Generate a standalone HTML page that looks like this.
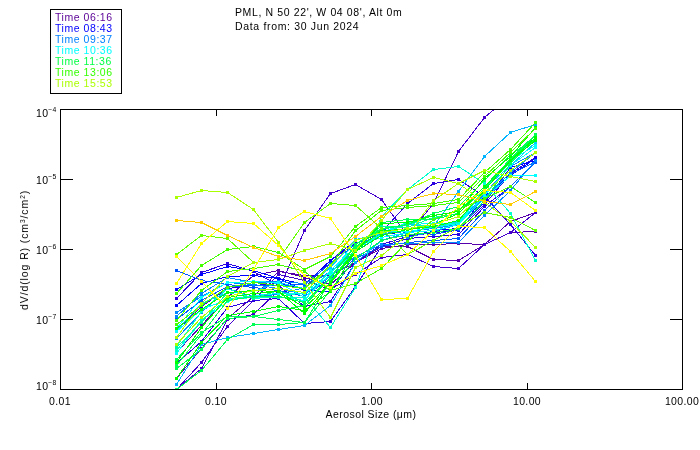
<!DOCTYPE html><html><head><meta charset="utf-8"><title>PML aerosol size distribution</title><style>
html,body{margin:0;padding:0;background:#fff}
body{width:700px;height:450px;position:relative;overflow:hidden;font-family:"Liberation Sans",sans-serif;font-size:10.5px;color:#000;}
.t{position:absolute;white-space:nowrap;line-height:12px;letter-spacing:0.35px;will-change:transform}
.c{transform:translateX(-50%)}
.yl{position:absolute;white-space:nowrap;line-height:12px;right:643.3px;letter-spacing:0.3px;will-change:transform}
.yl sup{font-size:6.8px;position:relative;top:-1.6px;vertical-align:3.5px;line-height:0;letter-spacing:0.2px}
sup.s{font-size:6.5px;vertical-align:3px;line-height:0}
</style></head><body>
<svg width="700" height="450" viewBox="0 0 700 450" style="position:absolute;left:0;top:0" shape-rendering="crispEdges">
<defs><clipPath id="cp"><rect x="60" y="109" width="623" height="281"/></clipPath></defs>
<g clip-path="url(#cp)" fill="none" stroke-width="1">
<polyline points="176.5,378.5 201.5,348.5 227.5,318.5 253.5,296.5 278.5,271.5 304.5,275.5 330.5,275.5 355.5,262.5 381.5,246.5 407.5,246.5 433.5,259.5 458.5,260.5 484.5,244.5 510.5,232.5 535.5,231.5" stroke="#5500aa"/>
<rect x="175" y="377" width="3" height="3" fill="#5500aa" stroke="none"/>
<rect x="200" y="347" width="3" height="3" fill="#5500aa" stroke="none"/>
<rect x="226" y="317" width="3" height="3" fill="#5500aa" stroke="none"/>
<rect x="252" y="295" width="3" height="3" fill="#5500aa" stroke="none"/>
<rect x="277" y="270" width="3" height="3" fill="#5500aa" stroke="none"/>
<rect x="303" y="274" width="3" height="3" fill="#5500aa" stroke="none"/>
<rect x="329" y="274" width="3" height="3" fill="#5500aa" stroke="none"/>
<rect x="354" y="261" width="3" height="3" fill="#5500aa" stroke="none"/>
<rect x="380" y="245" width="3" height="3" fill="#5500aa" stroke="none"/>
<rect x="406" y="245" width="3" height="3" fill="#5500aa" stroke="none"/>
<rect x="432" y="258" width="3" height="3" fill="#5500aa" stroke="none"/>
<rect x="457" y="259" width="3" height="3" fill="#5500aa" stroke="none"/>
<rect x="483" y="243" width="3" height="3" fill="#5500aa" stroke="none"/>
<rect x="509" y="231" width="3" height="3" fill="#5500aa" stroke="none"/>
<rect x="534" y="230" width="3" height="3" fill="#5500aa" stroke="none"/>
<polyline points="176.5,352.5 201.5,325.5 227.5,297.5 253.5,275.5 278.5,270.5 304.5,277.5 330.5,284.5 355.5,262.5 381.5,248.5 407.5,244.5 433.5,244.5 458.5,243.5 484.5,244.5 510.5,221.5 535.5,212.5" stroke="#5500aa"/>
<rect x="175" y="351" width="3" height="3" fill="#5500aa" stroke="none"/>
<rect x="200" y="324" width="3" height="3" fill="#5500aa" stroke="none"/>
<rect x="226" y="296" width="3" height="3" fill="#5500aa" stroke="none"/>
<rect x="252" y="274" width="3" height="3" fill="#5500aa" stroke="none"/>
<rect x="277" y="269" width="3" height="3" fill="#5500aa" stroke="none"/>
<rect x="303" y="276" width="3" height="3" fill="#5500aa" stroke="none"/>
<rect x="329" y="283" width="3" height="3" fill="#5500aa" stroke="none"/>
<rect x="354" y="261" width="3" height="3" fill="#5500aa" stroke="none"/>
<rect x="380" y="247" width="3" height="3" fill="#5500aa" stroke="none"/>
<rect x="406" y="243" width="3" height="3" fill="#5500aa" stroke="none"/>
<rect x="432" y="243" width="3" height="3" fill="#5500aa" stroke="none"/>
<rect x="457" y="242" width="3" height="3" fill="#5500aa" stroke="none"/>
<rect x="483" y="243" width="3" height="3" fill="#5500aa" stroke="none"/>
<rect x="509" y="220" width="3" height="3" fill="#5500aa" stroke="none"/>
<rect x="534" y="211" width="3" height="3" fill="#5500aa" stroke="none"/>
<polyline points="176.5,389.5 201.5,368.5 227.5,319.5 253.5,314.5 278.5,290.5 304.5,230.5 330.5,193.5 355.5,184.5 381.5,199.5 407.5,235.5 433.5,203.5 458.5,151.5 484.5,117.5 510.5,95.5 535.5,80.5" stroke="#4400cc"/>
<rect x="175" y="388" width="3" height="3" fill="#4400cc" stroke="none"/>
<rect x="200" y="367" width="3" height="3" fill="#4400cc" stroke="none"/>
<rect x="226" y="318" width="3" height="3" fill="#4400cc" stroke="none"/>
<rect x="252" y="313" width="3" height="3" fill="#4400cc" stroke="none"/>
<rect x="277" y="289" width="3" height="3" fill="#4400cc" stroke="none"/>
<rect x="303" y="229" width="3" height="3" fill="#4400cc" stroke="none"/>
<rect x="329" y="192" width="3" height="3" fill="#4400cc" stroke="none"/>
<rect x="354" y="183" width="3" height="3" fill="#4400cc" stroke="none"/>
<rect x="380" y="198" width="3" height="3" fill="#4400cc" stroke="none"/>
<rect x="406" y="234" width="3" height="3" fill="#4400cc" stroke="none"/>
<rect x="432" y="202" width="3" height="3" fill="#4400cc" stroke="none"/>
<rect x="457" y="150" width="3" height="3" fill="#4400cc" stroke="none"/>
<rect x="483" y="116" width="3" height="3" fill="#4400cc" stroke="none"/>
<rect x="509" y="94" width="3" height="3" fill="#4400cc" stroke="none"/>
<rect x="534" y="79" width="3" height="3" fill="#4400cc" stroke="none"/>
<polyline points="176.5,389.5 201.5,362.5 227.5,326.5 253.5,300.5 278.5,274.5 304.5,280.5 330.5,289.5 355.5,274.5 381.5,257.5 407.5,254.5 433.5,266.5 458.5,268.5 484.5,244.5 510.5,232.5 535.5,212.5" stroke="#4400cc"/>
<rect x="175" y="388" width="3" height="3" fill="#4400cc" stroke="none"/>
<rect x="200" y="361" width="3" height="3" fill="#4400cc" stroke="none"/>
<rect x="226" y="325" width="3" height="3" fill="#4400cc" stroke="none"/>
<rect x="252" y="299" width="3" height="3" fill="#4400cc" stroke="none"/>
<rect x="277" y="273" width="3" height="3" fill="#4400cc" stroke="none"/>
<rect x="303" y="279" width="3" height="3" fill="#4400cc" stroke="none"/>
<rect x="329" y="288" width="3" height="3" fill="#4400cc" stroke="none"/>
<rect x="354" y="273" width="3" height="3" fill="#4400cc" stroke="none"/>
<rect x="380" y="256" width="3" height="3" fill="#4400cc" stroke="none"/>
<rect x="406" y="253" width="3" height="3" fill="#4400cc" stroke="none"/>
<rect x="432" y="265" width="3" height="3" fill="#4400cc" stroke="none"/>
<rect x="457" y="267" width="3" height="3" fill="#4400cc" stroke="none"/>
<rect x="483" y="243" width="3" height="3" fill="#4400cc" stroke="none"/>
<rect x="509" y="231" width="3" height="3" fill="#4400cc" stroke="none"/>
<rect x="534" y="211" width="3" height="3" fill="#4400cc" stroke="none"/>
<polyline points="176.5,330.5 201.5,306.5 227.5,288.5 253.5,285.5 278.5,283.5 304.5,288.5 330.5,260.5 355.5,243.5 381.5,232.5 407.5,203.5 433.5,183.5 458.5,179.5 484.5,196.5 510.5,224.5 535.5,255.5" stroke="#2a00e0"/>
<rect x="175" y="329" width="3" height="3" fill="#2a00e0" stroke="none"/>
<rect x="200" y="305" width="3" height="3" fill="#2a00e0" stroke="none"/>
<rect x="226" y="287" width="3" height="3" fill="#2a00e0" stroke="none"/>
<rect x="252" y="284" width="3" height="3" fill="#2a00e0" stroke="none"/>
<rect x="277" y="282" width="3" height="3" fill="#2a00e0" stroke="none"/>
<rect x="303" y="287" width="3" height="3" fill="#2a00e0" stroke="none"/>
<rect x="329" y="259" width="3" height="3" fill="#2a00e0" stroke="none"/>
<rect x="354" y="242" width="3" height="3" fill="#2a00e0" stroke="none"/>
<rect x="380" y="231" width="3" height="3" fill="#2a00e0" stroke="none"/>
<rect x="406" y="202" width="3" height="3" fill="#2a00e0" stroke="none"/>
<rect x="432" y="182" width="3" height="3" fill="#2a00e0" stroke="none"/>
<rect x="457" y="178" width="3" height="3" fill="#2a00e0" stroke="none"/>
<rect x="483" y="195" width="3" height="3" fill="#2a00e0" stroke="none"/>
<rect x="509" y="223" width="3" height="3" fill="#2a00e0" stroke="none"/>
<rect x="534" y="254" width="3" height="3" fill="#2a00e0" stroke="none"/>
<polyline points="176.5,298.5 201.5,272.5 227.5,263.5 253.5,271.5 278.5,285.5 304.5,306.5 330.5,301.5 355.5,262.5 381.5,244.5 407.5,236.5 433.5,232.5 458.5,230.5 484.5,204.5 510.5,173.5 535.5,157.5" stroke="#2a00e0"/>
<rect x="175" y="297" width="3" height="3" fill="#2a00e0" stroke="none"/>
<rect x="200" y="271" width="3" height="3" fill="#2a00e0" stroke="none"/>
<rect x="226" y="262" width="3" height="3" fill="#2a00e0" stroke="none"/>
<rect x="252" y="270" width="3" height="3" fill="#2a00e0" stroke="none"/>
<rect x="277" y="284" width="3" height="3" fill="#2a00e0" stroke="none"/>
<rect x="303" y="305" width="3" height="3" fill="#2a00e0" stroke="none"/>
<rect x="329" y="300" width="3" height="3" fill="#2a00e0" stroke="none"/>
<rect x="354" y="261" width="3" height="3" fill="#2a00e0" stroke="none"/>
<rect x="380" y="243" width="3" height="3" fill="#2a00e0" stroke="none"/>
<rect x="406" y="235" width="3" height="3" fill="#2a00e0" stroke="none"/>
<rect x="432" y="231" width="3" height="3" fill="#2a00e0" stroke="none"/>
<rect x="457" y="229" width="3" height="3" fill="#2a00e0" stroke="none"/>
<rect x="483" y="203" width="3" height="3" fill="#2a00e0" stroke="none"/>
<rect x="509" y="172" width="3" height="3" fill="#2a00e0" stroke="none"/>
<rect x="534" y="156" width="3" height="3" fill="#2a00e0" stroke="none"/>
<polyline points="176.5,363.5 201.5,341.5 227.5,307.5 253.5,300.5 278.5,298.5 304.5,323.5 330.5,321.5 355.5,286.5 381.5,246.5 407.5,238.5 433.5,236.5 458.5,234.5 484.5,206.5 510.5,186.5 535.5,162.5" stroke="#2a00e0"/>
<rect x="175" y="362" width="3" height="3" fill="#2a00e0" stroke="none"/>
<rect x="200" y="340" width="3" height="3" fill="#2a00e0" stroke="none"/>
<rect x="226" y="306" width="3" height="3" fill="#2a00e0" stroke="none"/>
<rect x="252" y="299" width="3" height="3" fill="#2a00e0" stroke="none"/>
<rect x="277" y="297" width="3" height="3" fill="#2a00e0" stroke="none"/>
<rect x="303" y="322" width="3" height="3" fill="#2a00e0" stroke="none"/>
<rect x="329" y="320" width="3" height="3" fill="#2a00e0" stroke="none"/>
<rect x="354" y="285" width="3" height="3" fill="#2a00e0" stroke="none"/>
<rect x="380" y="245" width="3" height="3" fill="#2a00e0" stroke="none"/>
<rect x="406" y="237" width="3" height="3" fill="#2a00e0" stroke="none"/>
<rect x="432" y="235" width="3" height="3" fill="#2a00e0" stroke="none"/>
<rect x="457" y="233" width="3" height="3" fill="#2a00e0" stroke="none"/>
<rect x="483" y="205" width="3" height="3" fill="#2a00e0" stroke="none"/>
<rect x="509" y="185" width="3" height="3" fill="#2a00e0" stroke="none"/>
<rect x="534" y="161" width="3" height="3" fill="#2a00e0" stroke="none"/>
<polyline points="176.5,289.5 201.5,274.5 227.5,266.5 253.5,270.5 278.5,278.5 304.5,290.5 330.5,291.5 355.5,258.5 381.5,240.5 407.5,232.5 433.5,230.5 458.5,228.5 484.5,202.5 510.5,167.5 535.5,160.5" stroke="#0000ff"/>
<rect x="175" y="288" width="3" height="3" fill="#0000ff" stroke="none"/>
<rect x="200" y="273" width="3" height="3" fill="#0000ff" stroke="none"/>
<rect x="226" y="265" width="3" height="3" fill="#0000ff" stroke="none"/>
<rect x="252" y="269" width="3" height="3" fill="#0000ff" stroke="none"/>
<rect x="277" y="277" width="3" height="3" fill="#0000ff" stroke="none"/>
<rect x="303" y="289" width="3" height="3" fill="#0000ff" stroke="none"/>
<rect x="329" y="290" width="3" height="3" fill="#0000ff" stroke="none"/>
<rect x="354" y="257" width="3" height="3" fill="#0000ff" stroke="none"/>
<rect x="380" y="239" width="3" height="3" fill="#0000ff" stroke="none"/>
<rect x="406" y="231" width="3" height="3" fill="#0000ff" stroke="none"/>
<rect x="432" y="229" width="3" height="3" fill="#0000ff" stroke="none"/>
<rect x="457" y="227" width="3" height="3" fill="#0000ff" stroke="none"/>
<rect x="483" y="201" width="3" height="3" fill="#0000ff" stroke="none"/>
<rect x="509" y="166" width="3" height="3" fill="#0000ff" stroke="none"/>
<rect x="534" y="159" width="3" height="3" fill="#0000ff" stroke="none"/>
<polyline points="176.5,305.5 201.5,283.5 227.5,276.5 253.5,275.5 278.5,278.5 304.5,284.5 330.5,260.5 355.5,240.5 381.5,232.5 407.5,235.5 433.5,231.5 458.5,230.5 484.5,196.5 510.5,175.5 535.5,158.5" stroke="#0000ff"/>
<rect x="175" y="304" width="3" height="3" fill="#0000ff" stroke="none"/>
<rect x="200" y="282" width="3" height="3" fill="#0000ff" stroke="none"/>
<rect x="226" y="275" width="3" height="3" fill="#0000ff" stroke="none"/>
<rect x="252" y="274" width="3" height="3" fill="#0000ff" stroke="none"/>
<rect x="277" y="277" width="3" height="3" fill="#0000ff" stroke="none"/>
<rect x="303" y="283" width="3" height="3" fill="#0000ff" stroke="none"/>
<rect x="329" y="259" width="3" height="3" fill="#0000ff" stroke="none"/>
<rect x="354" y="239" width="3" height="3" fill="#0000ff" stroke="none"/>
<rect x="380" y="231" width="3" height="3" fill="#0000ff" stroke="none"/>
<rect x="406" y="234" width="3" height="3" fill="#0000ff" stroke="none"/>
<rect x="432" y="230" width="3" height="3" fill="#0000ff" stroke="none"/>
<rect x="457" y="229" width="3" height="3" fill="#0000ff" stroke="none"/>
<rect x="483" y="195" width="3" height="3" fill="#0000ff" stroke="none"/>
<rect x="509" y="174" width="3" height="3" fill="#0000ff" stroke="none"/>
<rect x="534" y="157" width="3" height="3" fill="#0000ff" stroke="none"/>
<polyline points="176.5,270.5 201.5,280.5 227.5,284.5 253.5,287.5 278.5,290.5 304.5,296.5 330.5,278.5 355.5,258.5 381.5,246.5 407.5,242.5 433.5,240.5 458.5,238.5 484.5,210.5 510.5,186.5 535.5,162.5" stroke="#0055ff"/>
<rect x="175" y="269" width="3" height="3" fill="#0055ff" stroke="none"/>
<rect x="200" y="279" width="3" height="3" fill="#0055ff" stroke="none"/>
<rect x="226" y="283" width="3" height="3" fill="#0055ff" stroke="none"/>
<rect x="252" y="286" width="3" height="3" fill="#0055ff" stroke="none"/>
<rect x="277" y="289" width="3" height="3" fill="#0055ff" stroke="none"/>
<rect x="303" y="295" width="3" height="3" fill="#0055ff" stroke="none"/>
<rect x="329" y="277" width="3" height="3" fill="#0055ff" stroke="none"/>
<rect x="354" y="257" width="3" height="3" fill="#0055ff" stroke="none"/>
<rect x="380" y="245" width="3" height="3" fill="#0055ff" stroke="none"/>
<rect x="406" y="241" width="3" height="3" fill="#0055ff" stroke="none"/>
<rect x="432" y="239" width="3" height="3" fill="#0055ff" stroke="none"/>
<rect x="457" y="237" width="3" height="3" fill="#0055ff" stroke="none"/>
<rect x="483" y="209" width="3" height="3" fill="#0055ff" stroke="none"/>
<rect x="509" y="185" width="3" height="3" fill="#0055ff" stroke="none"/>
<rect x="534" y="161" width="3" height="3" fill="#0055ff" stroke="none"/>
<polyline points="176.5,319.5 201.5,300.5 227.5,286.5 253.5,285.5 278.5,285.5 304.5,284.5 330.5,263.5 355.5,244.5 381.5,229.5 407.5,232.5 433.5,234.5 458.5,229.5 484.5,200.5 510.5,174.5 535.5,161.5" stroke="#0055ff"/>
<rect x="175" y="318" width="3" height="3" fill="#0055ff" stroke="none"/>
<rect x="200" y="299" width="3" height="3" fill="#0055ff" stroke="none"/>
<rect x="226" y="285" width="3" height="3" fill="#0055ff" stroke="none"/>
<rect x="252" y="284" width="3" height="3" fill="#0055ff" stroke="none"/>
<rect x="277" y="284" width="3" height="3" fill="#0055ff" stroke="none"/>
<rect x="303" y="283" width="3" height="3" fill="#0055ff" stroke="none"/>
<rect x="329" y="262" width="3" height="3" fill="#0055ff" stroke="none"/>
<rect x="354" y="243" width="3" height="3" fill="#0055ff" stroke="none"/>
<rect x="380" y="228" width="3" height="3" fill="#0055ff" stroke="none"/>
<rect x="406" y="231" width="3" height="3" fill="#0055ff" stroke="none"/>
<rect x="432" y="233" width="3" height="3" fill="#0055ff" stroke="none"/>
<rect x="457" y="228" width="3" height="3" fill="#0055ff" stroke="none"/>
<rect x="483" y="199" width="3" height="3" fill="#0055ff" stroke="none"/>
<rect x="509" y="173" width="3" height="3" fill="#0055ff" stroke="none"/>
<rect x="534" y="160" width="3" height="3" fill="#0055ff" stroke="none"/>
<polyline points="176.5,312.5 201.5,296.5 227.5,282.5 253.5,284.5 278.5,288.5 304.5,294.5 330.5,276.5 355.5,256.5 381.5,244.5 407.5,243.5 433.5,242.5 458.5,242.5 484.5,215.5 510.5,190.5 535.5,160.5" stroke="#0088ff"/>
<rect x="175" y="311" width="3" height="3" fill="#0088ff" stroke="none"/>
<rect x="200" y="295" width="3" height="3" fill="#0088ff" stroke="none"/>
<rect x="226" y="281" width="3" height="3" fill="#0088ff" stroke="none"/>
<rect x="252" y="283" width="3" height="3" fill="#0088ff" stroke="none"/>
<rect x="277" y="287" width="3" height="3" fill="#0088ff" stroke="none"/>
<rect x="303" y="293" width="3" height="3" fill="#0088ff" stroke="none"/>
<rect x="329" y="275" width="3" height="3" fill="#0088ff" stroke="none"/>
<rect x="354" y="255" width="3" height="3" fill="#0088ff" stroke="none"/>
<rect x="380" y="243" width="3" height="3" fill="#0088ff" stroke="none"/>
<rect x="406" y="242" width="3" height="3" fill="#0088ff" stroke="none"/>
<rect x="432" y="241" width="3" height="3" fill="#0088ff" stroke="none"/>
<rect x="457" y="241" width="3" height="3" fill="#0088ff" stroke="none"/>
<rect x="483" y="214" width="3" height="3" fill="#0088ff" stroke="none"/>
<rect x="509" y="189" width="3" height="3" fill="#0088ff" stroke="none"/>
<rect x="534" y="159" width="3" height="3" fill="#0088ff" stroke="none"/>
<polyline points="176.5,316.5 201.5,293.5 227.5,277.5 253.5,282.5 278.5,281.5 304.5,283.5 330.5,273.5 355.5,246.5 381.5,233.5 407.5,231.5 433.5,228.5 458.5,224.5 484.5,193.5 510.5,166.5 535.5,152.5" stroke="#0088ff"/>
<rect x="175" y="315" width="3" height="3" fill="#0088ff" stroke="none"/>
<rect x="200" y="292" width="3" height="3" fill="#0088ff" stroke="none"/>
<rect x="226" y="276" width="3" height="3" fill="#0088ff" stroke="none"/>
<rect x="252" y="281" width="3" height="3" fill="#0088ff" stroke="none"/>
<rect x="277" y="280" width="3" height="3" fill="#0088ff" stroke="none"/>
<rect x="303" y="282" width="3" height="3" fill="#0088ff" stroke="none"/>
<rect x="329" y="272" width="3" height="3" fill="#0088ff" stroke="none"/>
<rect x="354" y="245" width="3" height="3" fill="#0088ff" stroke="none"/>
<rect x="380" y="232" width="3" height="3" fill="#0088ff" stroke="none"/>
<rect x="406" y="230" width="3" height="3" fill="#0088ff" stroke="none"/>
<rect x="432" y="227" width="3" height="3" fill="#0088ff" stroke="none"/>
<rect x="457" y="223" width="3" height="3" fill="#0088ff" stroke="none"/>
<rect x="483" y="192" width="3" height="3" fill="#0088ff" stroke="none"/>
<rect x="509" y="165" width="3" height="3" fill="#0088ff" stroke="none"/>
<rect x="534" y="151" width="3" height="3" fill="#0088ff" stroke="none"/>
<polyline points="176.5,338.5 201.5,312.5 227.5,288.5 253.5,296.5 278.5,294.5 304.5,287.5 330.5,271.5 355.5,251.5 381.5,234.5 407.5,237.5 433.5,231.5 458.5,224.5 484.5,197.5 510.5,172.5 535.5,152.5" stroke="#0088ff"/>
<rect x="175" y="337" width="3" height="3" fill="#0088ff" stroke="none"/>
<rect x="200" y="311" width="3" height="3" fill="#0088ff" stroke="none"/>
<rect x="226" y="287" width="3" height="3" fill="#0088ff" stroke="none"/>
<rect x="252" y="295" width="3" height="3" fill="#0088ff" stroke="none"/>
<rect x="277" y="293" width="3" height="3" fill="#0088ff" stroke="none"/>
<rect x="303" y="286" width="3" height="3" fill="#0088ff" stroke="none"/>
<rect x="329" y="270" width="3" height="3" fill="#0088ff" stroke="none"/>
<rect x="354" y="250" width="3" height="3" fill="#0088ff" stroke="none"/>
<rect x="380" y="233" width="3" height="3" fill="#0088ff" stroke="none"/>
<rect x="406" y="236" width="3" height="3" fill="#0088ff" stroke="none"/>
<rect x="432" y="230" width="3" height="3" fill="#0088ff" stroke="none"/>
<rect x="457" y="223" width="3" height="3" fill="#0088ff" stroke="none"/>
<rect x="483" y="196" width="3" height="3" fill="#0088ff" stroke="none"/>
<rect x="509" y="171" width="3" height="3" fill="#0088ff" stroke="none"/>
<rect x="534" y="151" width="3" height="3" fill="#0088ff" stroke="none"/>
<polyline points="176.5,384.5 201.5,344.5 227.5,337.5 253.5,333.5 278.5,329.5 304.5,325.5 330.5,305.5 355.5,262.5 381.5,240.5 407.5,232.5 433.5,226.5 458.5,191.5 484.5,156.5 510.5,132.5 535.5,124.5" stroke="#00b4ff"/>
<rect x="175" y="383" width="3" height="3" fill="#00b4ff" stroke="none"/>
<rect x="200" y="343" width="3" height="3" fill="#00b4ff" stroke="none"/>
<rect x="226" y="336" width="3" height="3" fill="#00b4ff" stroke="none"/>
<rect x="252" y="332" width="3" height="3" fill="#00b4ff" stroke="none"/>
<rect x="277" y="328" width="3" height="3" fill="#00b4ff" stroke="none"/>
<rect x="303" y="324" width="3" height="3" fill="#00b4ff" stroke="none"/>
<rect x="329" y="304" width="3" height="3" fill="#00b4ff" stroke="none"/>
<rect x="354" y="261" width="3" height="3" fill="#00b4ff" stroke="none"/>
<rect x="380" y="239" width="3" height="3" fill="#00b4ff" stroke="none"/>
<rect x="406" y="231" width="3" height="3" fill="#00b4ff" stroke="none"/>
<rect x="432" y="225" width="3" height="3" fill="#00b4ff" stroke="none"/>
<rect x="457" y="190" width="3" height="3" fill="#00b4ff" stroke="none"/>
<rect x="483" y="155" width="3" height="3" fill="#00b4ff" stroke="none"/>
<rect x="509" y="131" width="3" height="3" fill="#00b4ff" stroke="none"/>
<rect x="534" y="123" width="3" height="3" fill="#00b4ff" stroke="none"/>
<polyline points="176.5,330.5 201.5,303.5 227.5,292.5 253.5,291.5 278.5,282.5 304.5,288.5 330.5,267.5 355.5,239.5 381.5,233.5 407.5,224.5 433.5,226.5 458.5,221.5 484.5,188.5 510.5,165.5 535.5,142.5" stroke="#00ccff"/>
<rect x="175" y="329" width="3" height="3" fill="#00ccff" stroke="none"/>
<rect x="200" y="302" width="3" height="3" fill="#00ccff" stroke="none"/>
<rect x="226" y="291" width="3" height="3" fill="#00ccff" stroke="none"/>
<rect x="252" y="290" width="3" height="3" fill="#00ccff" stroke="none"/>
<rect x="277" y="281" width="3" height="3" fill="#00ccff" stroke="none"/>
<rect x="303" y="287" width="3" height="3" fill="#00ccff" stroke="none"/>
<rect x="329" y="266" width="3" height="3" fill="#00ccff" stroke="none"/>
<rect x="354" y="238" width="3" height="3" fill="#00ccff" stroke="none"/>
<rect x="380" y="232" width="3" height="3" fill="#00ccff" stroke="none"/>
<rect x="406" y="223" width="3" height="3" fill="#00ccff" stroke="none"/>
<rect x="432" y="225" width="3" height="3" fill="#00ccff" stroke="none"/>
<rect x="457" y="220" width="3" height="3" fill="#00ccff" stroke="none"/>
<rect x="483" y="187" width="3" height="3" fill="#00ccff" stroke="none"/>
<rect x="509" y="164" width="3" height="3" fill="#00ccff" stroke="none"/>
<rect x="534" y="141" width="3" height="3" fill="#00ccff" stroke="none"/>
<polyline points="176.5,331.5 201.5,309.5 227.5,299.5 253.5,297.5 278.5,296.5 304.5,300.5 330.5,270.5 355.5,246.5 381.5,237.5 407.5,232.5 433.5,230.5 458.5,224.5 484.5,198.5 510.5,175.5 535.5,175.5" stroke="#00ffff"/>
<rect x="175" y="330" width="3" height="3" fill="#00ffff" stroke="none"/>
<rect x="200" y="308" width="3" height="3" fill="#00ffff" stroke="none"/>
<rect x="226" y="298" width="3" height="3" fill="#00ffff" stroke="none"/>
<rect x="252" y="296" width="3" height="3" fill="#00ffff" stroke="none"/>
<rect x="277" y="295" width="3" height="3" fill="#00ffff" stroke="none"/>
<rect x="303" y="299" width="3" height="3" fill="#00ffff" stroke="none"/>
<rect x="329" y="269" width="3" height="3" fill="#00ffff" stroke="none"/>
<rect x="354" y="245" width="3" height="3" fill="#00ffff" stroke="none"/>
<rect x="380" y="236" width="3" height="3" fill="#00ffff" stroke="none"/>
<rect x="406" y="231" width="3" height="3" fill="#00ffff" stroke="none"/>
<rect x="432" y="229" width="3" height="3" fill="#00ffff" stroke="none"/>
<rect x="457" y="223" width="3" height="3" fill="#00ffff" stroke="none"/>
<rect x="483" y="197" width="3" height="3" fill="#00ffff" stroke="none"/>
<rect x="509" y="174" width="3" height="3" fill="#00ffff" stroke="none"/>
<rect x="534" y="174" width="3" height="3" fill="#00ffff" stroke="none"/>
<polyline points="176.5,328.5 201.5,297.5 227.5,282.5 253.5,281.5 278.5,282.5 304.5,297.5 330.5,274.5 355.5,240.5 381.5,232.5 407.5,222.5 433.5,223.5 458.5,223.5 484.5,190.5 510.5,160.5 535.5,145.5" stroke="#00ffff"/>
<rect x="175" y="327" width="3" height="3" fill="#00ffff" stroke="none"/>
<rect x="200" y="296" width="3" height="3" fill="#00ffff" stroke="none"/>
<rect x="226" y="281" width="3" height="3" fill="#00ffff" stroke="none"/>
<rect x="252" y="280" width="3" height="3" fill="#00ffff" stroke="none"/>
<rect x="277" y="281" width="3" height="3" fill="#00ffff" stroke="none"/>
<rect x="303" y="296" width="3" height="3" fill="#00ffff" stroke="none"/>
<rect x="329" y="273" width="3" height="3" fill="#00ffff" stroke="none"/>
<rect x="354" y="239" width="3" height="3" fill="#00ffff" stroke="none"/>
<rect x="380" y="231" width="3" height="3" fill="#00ffff" stroke="none"/>
<rect x="406" y="221" width="3" height="3" fill="#00ffff" stroke="none"/>
<rect x="432" y="222" width="3" height="3" fill="#00ffff" stroke="none"/>
<rect x="457" y="222" width="3" height="3" fill="#00ffff" stroke="none"/>
<rect x="483" y="189" width="3" height="3" fill="#00ffff" stroke="none"/>
<rect x="509" y="159" width="3" height="3" fill="#00ffff" stroke="none"/>
<rect x="534" y="144" width="3" height="3" fill="#00ffff" stroke="none"/>
<polyline points="176.5,353.5 201.5,320.5 227.5,301.5 253.5,295.5 278.5,293.5 304.5,293.5 330.5,275.5 355.5,250.5 381.5,231.5 407.5,231.5 433.5,227.5 458.5,223.5 484.5,195.5 510.5,165.5 535.5,147.5" stroke="#00ffff"/>
<rect x="175" y="352" width="3" height="3" fill="#00ffff" stroke="none"/>
<rect x="200" y="319" width="3" height="3" fill="#00ffff" stroke="none"/>
<rect x="226" y="300" width="3" height="3" fill="#00ffff" stroke="none"/>
<rect x="252" y="294" width="3" height="3" fill="#00ffff" stroke="none"/>
<rect x="277" y="292" width="3" height="3" fill="#00ffff" stroke="none"/>
<rect x="303" y="292" width="3" height="3" fill="#00ffff" stroke="none"/>
<rect x="329" y="274" width="3" height="3" fill="#00ffff" stroke="none"/>
<rect x="354" y="249" width="3" height="3" fill="#00ffff" stroke="none"/>
<rect x="380" y="230" width="3" height="3" fill="#00ffff" stroke="none"/>
<rect x="406" y="230" width="3" height="3" fill="#00ffff" stroke="none"/>
<rect x="432" y="226" width="3" height="3" fill="#00ffff" stroke="none"/>
<rect x="457" y="222" width="3" height="3" fill="#00ffff" stroke="none"/>
<rect x="483" y="194" width="3" height="3" fill="#00ffff" stroke="none"/>
<rect x="509" y="164" width="3" height="3" fill="#00ffff" stroke="none"/>
<rect x="534" y="146" width="3" height="3" fill="#00ffff" stroke="none"/>
<polyline points="176.5,350.5 201.5,320.5 227.5,298.5 253.5,296.5 278.5,297.5 304.5,297.5 330.5,327.5 355.5,287.5 381.5,216.5 407.5,189.5 433.5,169.5 458.5,166.5 484.5,183.5 510.5,213.5 535.5,260.5" stroke="#00ffcc"/>
<rect x="175" y="349" width="3" height="3" fill="#00ffcc" stroke="none"/>
<rect x="200" y="319" width="3" height="3" fill="#00ffcc" stroke="none"/>
<rect x="226" y="297" width="3" height="3" fill="#00ffcc" stroke="none"/>
<rect x="252" y="295" width="3" height="3" fill="#00ffcc" stroke="none"/>
<rect x="277" y="296" width="3" height="3" fill="#00ffcc" stroke="none"/>
<rect x="303" y="296" width="3" height="3" fill="#00ffcc" stroke="none"/>
<rect x="329" y="326" width="3" height="3" fill="#00ffcc" stroke="none"/>
<rect x="354" y="286" width="3" height="3" fill="#00ffcc" stroke="none"/>
<rect x="380" y="215" width="3" height="3" fill="#00ffcc" stroke="none"/>
<rect x="406" y="188" width="3" height="3" fill="#00ffcc" stroke="none"/>
<rect x="432" y="168" width="3" height="3" fill="#00ffcc" stroke="none"/>
<rect x="457" y="165" width="3" height="3" fill="#00ffcc" stroke="none"/>
<rect x="483" y="182" width="3" height="3" fill="#00ffcc" stroke="none"/>
<rect x="509" y="212" width="3" height="3" fill="#00ffcc" stroke="none"/>
<rect x="534" y="259" width="3" height="3" fill="#00ffcc" stroke="none"/>
<polyline points="176.5,346.5 201.5,311.5 227.5,288.5 253.5,298.5 278.5,296.5 304.5,292.5 330.5,272.5 355.5,247.5 381.5,234.5 407.5,222.5 433.5,227.5 458.5,222.5 484.5,188.5 510.5,161.5 535.5,138.5" stroke="#00ffcc"/>
<rect x="175" y="345" width="3" height="3" fill="#00ffcc" stroke="none"/>
<rect x="200" y="310" width="3" height="3" fill="#00ffcc" stroke="none"/>
<rect x="226" y="287" width="3" height="3" fill="#00ffcc" stroke="none"/>
<rect x="252" y="297" width="3" height="3" fill="#00ffcc" stroke="none"/>
<rect x="277" y="295" width="3" height="3" fill="#00ffcc" stroke="none"/>
<rect x="303" y="291" width="3" height="3" fill="#00ffcc" stroke="none"/>
<rect x="329" y="271" width="3" height="3" fill="#00ffcc" stroke="none"/>
<rect x="354" y="246" width="3" height="3" fill="#00ffcc" stroke="none"/>
<rect x="380" y="233" width="3" height="3" fill="#00ffcc" stroke="none"/>
<rect x="406" y="221" width="3" height="3" fill="#00ffcc" stroke="none"/>
<rect x="432" y="226" width="3" height="3" fill="#00ffcc" stroke="none"/>
<rect x="457" y="221" width="3" height="3" fill="#00ffcc" stroke="none"/>
<rect x="483" y="187" width="3" height="3" fill="#00ffcc" stroke="none"/>
<rect x="509" y="160" width="3" height="3" fill="#00ffcc" stroke="none"/>
<rect x="534" y="137" width="3" height="3" fill="#00ffcc" stroke="none"/>
<polyline points="176.5,347.5 201.5,322.5 227.5,292.5 253.5,298.5 278.5,290.5 304.5,302.5 330.5,278.5 355.5,244.5 381.5,226.5 407.5,227.5 433.5,217.5 458.5,213.5 484.5,186.5 510.5,162.5 535.5,139.5" stroke="#00ff99"/>
<rect x="175" y="346" width="3" height="3" fill="#00ff99" stroke="none"/>
<rect x="200" y="321" width="3" height="3" fill="#00ff99" stroke="none"/>
<rect x="226" y="291" width="3" height="3" fill="#00ff99" stroke="none"/>
<rect x="252" y="297" width="3" height="3" fill="#00ff99" stroke="none"/>
<rect x="277" y="289" width="3" height="3" fill="#00ff99" stroke="none"/>
<rect x="303" y="301" width="3" height="3" fill="#00ff99" stroke="none"/>
<rect x="329" y="277" width="3" height="3" fill="#00ff99" stroke="none"/>
<rect x="354" y="243" width="3" height="3" fill="#00ff99" stroke="none"/>
<rect x="380" y="225" width="3" height="3" fill="#00ff99" stroke="none"/>
<rect x="406" y="226" width="3" height="3" fill="#00ff99" stroke="none"/>
<rect x="432" y="216" width="3" height="3" fill="#00ff99" stroke="none"/>
<rect x="457" y="212" width="3" height="3" fill="#00ff99" stroke="none"/>
<rect x="483" y="185" width="3" height="3" fill="#00ff99" stroke="none"/>
<rect x="509" y="161" width="3" height="3" fill="#00ff99" stroke="none"/>
<rect x="534" y="138" width="3" height="3" fill="#00ff99" stroke="none"/>
<polyline points="176.5,389.5 201.5,370.5 227.5,339.5 253.5,324.5 278.5,324.5 304.5,322.5 330.5,290.5 355.5,258.5 381.5,240.5 407.5,234.5 433.5,232.5 458.5,228.5 484.5,200.5 510.5,163.5 535.5,138.5" stroke="#00ff55"/>
<rect x="175" y="388" width="3" height="3" fill="#00ff55" stroke="none"/>
<rect x="200" y="369" width="3" height="3" fill="#00ff55" stroke="none"/>
<rect x="226" y="338" width="3" height="3" fill="#00ff55" stroke="none"/>
<rect x="252" y="323" width="3" height="3" fill="#00ff55" stroke="none"/>
<rect x="277" y="323" width="3" height="3" fill="#00ff55" stroke="none"/>
<rect x="303" y="321" width="3" height="3" fill="#00ff55" stroke="none"/>
<rect x="329" y="289" width="3" height="3" fill="#00ff55" stroke="none"/>
<rect x="354" y="257" width="3" height="3" fill="#00ff55" stroke="none"/>
<rect x="380" y="239" width="3" height="3" fill="#00ff55" stroke="none"/>
<rect x="406" y="233" width="3" height="3" fill="#00ff55" stroke="none"/>
<rect x="432" y="231" width="3" height="3" fill="#00ff55" stroke="none"/>
<rect x="457" y="227" width="3" height="3" fill="#00ff55" stroke="none"/>
<rect x="483" y="199" width="3" height="3" fill="#00ff55" stroke="none"/>
<rect x="509" y="162" width="3" height="3" fill="#00ff55" stroke="none"/>
<rect x="534" y="137" width="3" height="3" fill="#00ff55" stroke="none"/>
<polyline points="176.5,359.5 201.5,332.5 227.5,316.5 253.5,316.5 278.5,319.5 304.5,322.5 330.5,281.5 355.5,248.5 381.5,222.5 407.5,219.5 433.5,219.5 458.5,213.5 484.5,188.5 510.5,158.5 535.5,134.5" stroke="#00ff55"/>
<rect x="175" y="358" width="3" height="3" fill="#00ff55" stroke="none"/>
<rect x="200" y="331" width="3" height="3" fill="#00ff55" stroke="none"/>
<rect x="226" y="315" width="3" height="3" fill="#00ff55" stroke="none"/>
<rect x="252" y="315" width="3" height="3" fill="#00ff55" stroke="none"/>
<rect x="277" y="318" width="3" height="3" fill="#00ff55" stroke="none"/>
<rect x="303" y="321" width="3" height="3" fill="#00ff55" stroke="none"/>
<rect x="329" y="280" width="3" height="3" fill="#00ff55" stroke="none"/>
<rect x="354" y="247" width="3" height="3" fill="#00ff55" stroke="none"/>
<rect x="380" y="221" width="3" height="3" fill="#00ff55" stroke="none"/>
<rect x="406" y="218" width="3" height="3" fill="#00ff55" stroke="none"/>
<rect x="432" y="218" width="3" height="3" fill="#00ff55" stroke="none"/>
<rect x="457" y="212" width="3" height="3" fill="#00ff55" stroke="none"/>
<rect x="483" y="187" width="3" height="3" fill="#00ff55" stroke="none"/>
<rect x="509" y="157" width="3" height="3" fill="#00ff55" stroke="none"/>
<rect x="534" y="133" width="3" height="3" fill="#00ff55" stroke="none"/>
<polyline points="176.5,368.5 201.5,349.5 227.5,318.5 253.5,316.5 278.5,310.5 304.5,305.5 330.5,277.5 355.5,244.5 381.5,228.5 407.5,224.5 433.5,213.5 458.5,206.5 484.5,180.5 510.5,154.5 535.5,138.5" stroke="#00ff55"/>
<rect x="175" y="367" width="3" height="3" fill="#00ff55" stroke="none"/>
<rect x="200" y="348" width="3" height="3" fill="#00ff55" stroke="none"/>
<rect x="226" y="317" width="3" height="3" fill="#00ff55" stroke="none"/>
<rect x="252" y="315" width="3" height="3" fill="#00ff55" stroke="none"/>
<rect x="277" y="309" width="3" height="3" fill="#00ff55" stroke="none"/>
<rect x="303" y="304" width="3" height="3" fill="#00ff55" stroke="none"/>
<rect x="329" y="276" width="3" height="3" fill="#00ff55" stroke="none"/>
<rect x="354" y="243" width="3" height="3" fill="#00ff55" stroke="none"/>
<rect x="380" y="227" width="3" height="3" fill="#00ff55" stroke="none"/>
<rect x="406" y="223" width="3" height="3" fill="#00ff55" stroke="none"/>
<rect x="432" y="212" width="3" height="3" fill="#00ff55" stroke="none"/>
<rect x="457" y="205" width="3" height="3" fill="#00ff55" stroke="none"/>
<rect x="483" y="179" width="3" height="3" fill="#00ff55" stroke="none"/>
<rect x="509" y="153" width="3" height="3" fill="#00ff55" stroke="none"/>
<rect x="534" y="137" width="3" height="3" fill="#00ff55" stroke="none"/>
<polyline points="176.5,365.5 201.5,334.5 227.5,300.5 253.5,296.5 278.5,296.5 304.5,302.5 330.5,277.5 355.5,246.5 381.5,229.5 407.5,224.5 433.5,215.5 458.5,211.5 484.5,186.5 510.5,159.5 535.5,135.5" stroke="#00ff55"/>
<rect x="175" y="364" width="3" height="3" fill="#00ff55" stroke="none"/>
<rect x="200" y="333" width="3" height="3" fill="#00ff55" stroke="none"/>
<rect x="226" y="299" width="3" height="3" fill="#00ff55" stroke="none"/>
<rect x="252" y="295" width="3" height="3" fill="#00ff55" stroke="none"/>
<rect x="277" y="295" width="3" height="3" fill="#00ff55" stroke="none"/>
<rect x="303" y="301" width="3" height="3" fill="#00ff55" stroke="none"/>
<rect x="329" y="276" width="3" height="3" fill="#00ff55" stroke="none"/>
<rect x="354" y="245" width="3" height="3" fill="#00ff55" stroke="none"/>
<rect x="380" y="228" width="3" height="3" fill="#00ff55" stroke="none"/>
<rect x="406" y="223" width="3" height="3" fill="#00ff55" stroke="none"/>
<rect x="432" y="214" width="3" height="3" fill="#00ff55" stroke="none"/>
<rect x="457" y="210" width="3" height="3" fill="#00ff55" stroke="none"/>
<rect x="483" y="185" width="3" height="3" fill="#00ff55" stroke="none"/>
<rect x="509" y="158" width="3" height="3" fill="#00ff55" stroke="none"/>
<rect x="534" y="134" width="3" height="3" fill="#00ff55" stroke="none"/>
<polyline points="176.5,328.5 201.5,309.5 227.5,292.5 253.5,290.5 278.5,291.5 304.5,313.5 330.5,282.5 355.5,250.5 381.5,230.5 407.5,229.5 433.5,226.5 458.5,220.5 484.5,190.5 510.5,160.5 535.5,140.5" stroke="#00ff00"/>
<rect x="175" y="327" width="3" height="3" fill="#00ff00" stroke="none"/>
<rect x="200" y="308" width="3" height="3" fill="#00ff00" stroke="none"/>
<rect x="226" y="291" width="3" height="3" fill="#00ff00" stroke="none"/>
<rect x="252" y="289" width="3" height="3" fill="#00ff00" stroke="none"/>
<rect x="277" y="290" width="3" height="3" fill="#00ff00" stroke="none"/>
<rect x="303" y="312" width="3" height="3" fill="#00ff00" stroke="none"/>
<rect x="329" y="281" width="3" height="3" fill="#00ff00" stroke="none"/>
<rect x="354" y="249" width="3" height="3" fill="#00ff00" stroke="none"/>
<rect x="380" y="229" width="3" height="3" fill="#00ff00" stroke="none"/>
<rect x="406" y="228" width="3" height="3" fill="#00ff00" stroke="none"/>
<rect x="432" y="225" width="3" height="3" fill="#00ff00" stroke="none"/>
<rect x="457" y="219" width="3" height="3" fill="#00ff00" stroke="none"/>
<rect x="483" y="189" width="3" height="3" fill="#00ff00" stroke="none"/>
<rect x="509" y="159" width="3" height="3" fill="#00ff00" stroke="none"/>
<rect x="534" y="139" width="3" height="3" fill="#00ff00" stroke="none"/>
<polyline points="176.5,362.5 201.5,327.5 227.5,297.5 253.5,293.5 278.5,291.5 304.5,307.5 330.5,283.5 355.5,251.5 381.5,223.5 407.5,222.5 433.5,215.5 458.5,211.5 484.5,178.5 510.5,156.5 535.5,127.5" stroke="#00ff00"/>
<rect x="175" y="361" width="3" height="3" fill="#00ff00" stroke="none"/>
<rect x="200" y="326" width="3" height="3" fill="#00ff00" stroke="none"/>
<rect x="226" y="296" width="3" height="3" fill="#00ff00" stroke="none"/>
<rect x="252" y="292" width="3" height="3" fill="#00ff00" stroke="none"/>
<rect x="277" y="290" width="3" height="3" fill="#00ff00" stroke="none"/>
<rect x="303" y="306" width="3" height="3" fill="#00ff00" stroke="none"/>
<rect x="329" y="282" width="3" height="3" fill="#00ff00" stroke="none"/>
<rect x="354" y="250" width="3" height="3" fill="#00ff00" stroke="none"/>
<rect x="380" y="222" width="3" height="3" fill="#00ff00" stroke="none"/>
<rect x="406" y="221" width="3" height="3" fill="#00ff00" stroke="none"/>
<rect x="432" y="214" width="3" height="3" fill="#00ff00" stroke="none"/>
<rect x="457" y="210" width="3" height="3" fill="#00ff00" stroke="none"/>
<rect x="483" y="177" width="3" height="3" fill="#00ff00" stroke="none"/>
<rect x="509" y="155" width="3" height="3" fill="#00ff00" stroke="none"/>
<rect x="534" y="126" width="3" height="3" fill="#00ff00" stroke="none"/>
<polyline points="176.5,378.5 201.5,342.5 227.5,315.5 253.5,311.5 278.5,306.5 304.5,310.5 330.5,291.5 355.5,251.5 381.5,235.5 407.5,229.5 433.5,224.5 458.5,213.5 484.5,186.5 510.5,160.5 535.5,137.5" stroke="#00ff00"/>
<rect x="175" y="377" width="3" height="3" fill="#00ff00" stroke="none"/>
<rect x="200" y="341" width="3" height="3" fill="#00ff00" stroke="none"/>
<rect x="226" y="314" width="3" height="3" fill="#00ff00" stroke="none"/>
<rect x="252" y="310" width="3" height="3" fill="#00ff00" stroke="none"/>
<rect x="277" y="305" width="3" height="3" fill="#00ff00" stroke="none"/>
<rect x="303" y="309" width="3" height="3" fill="#00ff00" stroke="none"/>
<rect x="329" y="290" width="3" height="3" fill="#00ff00" stroke="none"/>
<rect x="354" y="250" width="3" height="3" fill="#00ff00" stroke="none"/>
<rect x="380" y="234" width="3" height="3" fill="#00ff00" stroke="none"/>
<rect x="406" y="228" width="3" height="3" fill="#00ff00" stroke="none"/>
<rect x="432" y="223" width="3" height="3" fill="#00ff00" stroke="none"/>
<rect x="457" y="212" width="3" height="3" fill="#00ff00" stroke="none"/>
<rect x="483" y="185" width="3" height="3" fill="#00ff00" stroke="none"/>
<rect x="509" y="159" width="3" height="3" fill="#00ff00" stroke="none"/>
<rect x="534" y="136" width="3" height="3" fill="#00ff00" stroke="none"/>
<polyline points="176.5,320.5 201.5,290.5 227.5,271.5 253.5,268.5 278.5,264.5 304.5,271.5 330.5,290.5 355.5,283.5 381.5,268.5 407.5,241.5 433.5,219.5 458.5,209.5 484.5,198.5 510.5,186.5 535.5,202.5" stroke="#44ff00"/>
<rect x="175" y="319" width="3" height="3" fill="#44ff00" stroke="none"/>
<rect x="200" y="289" width="3" height="3" fill="#44ff00" stroke="none"/>
<rect x="226" y="270" width="3" height="3" fill="#44ff00" stroke="none"/>
<rect x="252" y="267" width="3" height="3" fill="#44ff00" stroke="none"/>
<rect x="277" y="263" width="3" height="3" fill="#44ff00" stroke="none"/>
<rect x="303" y="270" width="3" height="3" fill="#44ff00" stroke="none"/>
<rect x="329" y="289" width="3" height="3" fill="#44ff00" stroke="none"/>
<rect x="354" y="282" width="3" height="3" fill="#44ff00" stroke="none"/>
<rect x="380" y="267" width="3" height="3" fill="#44ff00" stroke="none"/>
<rect x="406" y="240" width="3" height="3" fill="#44ff00" stroke="none"/>
<rect x="432" y="218" width="3" height="3" fill="#44ff00" stroke="none"/>
<rect x="457" y="208" width="3" height="3" fill="#44ff00" stroke="none"/>
<rect x="483" y="197" width="3" height="3" fill="#44ff00" stroke="none"/>
<rect x="509" y="185" width="3" height="3" fill="#44ff00" stroke="none"/>
<rect x="534" y="201" width="3" height="3" fill="#44ff00" stroke="none"/>
<polyline points="176.5,293.5 201.5,265.5 227.5,249.5 253.5,246.5 278.5,252.5 304.5,269.5 330.5,256.5 355.5,226.5 381.5,207.5 407.5,205.5 433.5,203.5 458.5,199.5 484.5,172.5 510.5,149.5 535.5,122.5" stroke="#44ff00"/>
<rect x="175" y="292" width="3" height="3" fill="#44ff00" stroke="none"/>
<rect x="200" y="264" width="3" height="3" fill="#44ff00" stroke="none"/>
<rect x="226" y="248" width="3" height="3" fill="#44ff00" stroke="none"/>
<rect x="252" y="245" width="3" height="3" fill="#44ff00" stroke="none"/>
<rect x="277" y="251" width="3" height="3" fill="#44ff00" stroke="none"/>
<rect x="303" y="268" width="3" height="3" fill="#44ff00" stroke="none"/>
<rect x="329" y="255" width="3" height="3" fill="#44ff00" stroke="none"/>
<rect x="354" y="225" width="3" height="3" fill="#44ff00" stroke="none"/>
<rect x="380" y="206" width="3" height="3" fill="#44ff00" stroke="none"/>
<rect x="406" y="204" width="3" height="3" fill="#44ff00" stroke="none"/>
<rect x="432" y="202" width="3" height="3" fill="#44ff00" stroke="none"/>
<rect x="457" y="198" width="3" height="3" fill="#44ff00" stroke="none"/>
<rect x="483" y="171" width="3" height="3" fill="#44ff00" stroke="none"/>
<rect x="509" y="148" width="3" height="3" fill="#44ff00" stroke="none"/>
<rect x="534" y="121" width="3" height="3" fill="#44ff00" stroke="none"/>
<polyline points="176.5,324.5 201.5,305.5 227.5,287.5 253.5,282.5 278.5,285.5 304.5,288.5 330.5,265.5 355.5,230.5 381.5,210.5 407.5,207.5 433.5,205.5 458.5,202.5 484.5,176.5 510.5,152.5 535.5,128.5" stroke="#44ff00"/>
<rect x="175" y="323" width="3" height="3" fill="#44ff00" stroke="none"/>
<rect x="200" y="304" width="3" height="3" fill="#44ff00" stroke="none"/>
<rect x="226" y="286" width="3" height="3" fill="#44ff00" stroke="none"/>
<rect x="252" y="281" width="3" height="3" fill="#44ff00" stroke="none"/>
<rect x="277" y="284" width="3" height="3" fill="#44ff00" stroke="none"/>
<rect x="303" y="287" width="3" height="3" fill="#44ff00" stroke="none"/>
<rect x="329" y="264" width="3" height="3" fill="#44ff00" stroke="none"/>
<rect x="354" y="229" width="3" height="3" fill="#44ff00" stroke="none"/>
<rect x="380" y="209" width="3" height="3" fill="#44ff00" stroke="none"/>
<rect x="406" y="206" width="3" height="3" fill="#44ff00" stroke="none"/>
<rect x="432" y="204" width="3" height="3" fill="#44ff00" stroke="none"/>
<rect x="457" y="201" width="3" height="3" fill="#44ff00" stroke="none"/>
<rect x="483" y="175" width="3" height="3" fill="#44ff00" stroke="none"/>
<rect x="509" y="151" width="3" height="3" fill="#44ff00" stroke="none"/>
<rect x="534" y="127" width="3" height="3" fill="#44ff00" stroke="none"/>
<polyline points="176.5,254.5 201.5,235.5 227.5,238.5 253.5,262.5 278.5,259.5 304.5,222.5 330.5,203.5 355.5,205.5 381.5,228.5 407.5,254.5 433.5,240.5 458.5,226.5 484.5,212.5 510.5,217.5 535.5,230.5" stroke="#66ff00"/>
<rect x="175" y="253" width="3" height="3" fill="#66ff00" stroke="none"/>
<rect x="200" y="234" width="3" height="3" fill="#66ff00" stroke="none"/>
<rect x="226" y="237" width="3" height="3" fill="#66ff00" stroke="none"/>
<rect x="252" y="261" width="3" height="3" fill="#66ff00" stroke="none"/>
<rect x="277" y="258" width="3" height="3" fill="#66ff00" stroke="none"/>
<rect x="303" y="221" width="3" height="3" fill="#66ff00" stroke="none"/>
<rect x="329" y="202" width="3" height="3" fill="#66ff00" stroke="none"/>
<rect x="354" y="204" width="3" height="3" fill="#66ff00" stroke="none"/>
<rect x="380" y="227" width="3" height="3" fill="#66ff00" stroke="none"/>
<rect x="406" y="253" width="3" height="3" fill="#66ff00" stroke="none"/>
<rect x="432" y="239" width="3" height="3" fill="#66ff00" stroke="none"/>
<rect x="457" y="225" width="3" height="3" fill="#66ff00" stroke="none"/>
<rect x="483" y="211" width="3" height="3" fill="#66ff00" stroke="none"/>
<rect x="509" y="216" width="3" height="3" fill="#66ff00" stroke="none"/>
<rect x="534" y="229" width="3" height="3" fill="#66ff00" stroke="none"/>
<polyline points="176.5,197.5 201.5,190.5 227.5,192.5 253.5,209.5 278.5,242.5 304.5,282.5 330.5,317.5 355.5,267.5 381.5,255.5 407.5,235.5 433.5,200.5 458.5,183.5 484.5,170.5 510.5,176.5 535.5,181.5" stroke="#aaff00"/>
<rect x="175" y="196" width="3" height="3" fill="#aaff00" stroke="none"/>
<rect x="200" y="189" width="3" height="3" fill="#aaff00" stroke="none"/>
<rect x="226" y="191" width="3" height="3" fill="#aaff00" stroke="none"/>
<rect x="252" y="208" width="3" height="3" fill="#aaff00" stroke="none"/>
<rect x="277" y="241" width="3" height="3" fill="#aaff00" stroke="none"/>
<rect x="303" y="281" width="3" height="3" fill="#aaff00" stroke="none"/>
<rect x="329" y="316" width="3" height="3" fill="#aaff00" stroke="none"/>
<rect x="354" y="266" width="3" height="3" fill="#aaff00" stroke="none"/>
<rect x="380" y="254" width="3" height="3" fill="#aaff00" stroke="none"/>
<rect x="406" y="234" width="3" height="3" fill="#aaff00" stroke="none"/>
<rect x="432" y="199" width="3" height="3" fill="#aaff00" stroke="none"/>
<rect x="457" y="182" width="3" height="3" fill="#aaff00" stroke="none"/>
<rect x="483" y="169" width="3" height="3" fill="#aaff00" stroke="none"/>
<rect x="509" y="175" width="3" height="3" fill="#aaff00" stroke="none"/>
<rect x="534" y="180" width="3" height="3" fill="#aaff00" stroke="none"/>
<polyline points="176.5,337.5 201.5,303.5 227.5,276.5 253.5,262.5 278.5,259.5 304.5,250.5 330.5,243.5 355.5,250.5 381.5,220.5 407.5,189.5 433.5,177.5 458.5,183.5 484.5,202.5 510.5,221.5 535.5,247.5" stroke="#aaff00"/>
<rect x="175" y="336" width="3" height="3" fill="#aaff00" stroke="none"/>
<rect x="200" y="302" width="3" height="3" fill="#aaff00" stroke="none"/>
<rect x="226" y="275" width="3" height="3" fill="#aaff00" stroke="none"/>
<rect x="252" y="261" width="3" height="3" fill="#aaff00" stroke="none"/>
<rect x="277" y="258" width="3" height="3" fill="#aaff00" stroke="none"/>
<rect x="303" y="249" width="3" height="3" fill="#aaff00" stroke="none"/>
<rect x="329" y="242" width="3" height="3" fill="#aaff00" stroke="none"/>
<rect x="354" y="249" width="3" height="3" fill="#aaff00" stroke="none"/>
<rect x="380" y="219" width="3" height="3" fill="#aaff00" stroke="none"/>
<rect x="406" y="188" width="3" height="3" fill="#aaff00" stroke="none"/>
<rect x="432" y="176" width="3" height="3" fill="#aaff00" stroke="none"/>
<rect x="457" y="182" width="3" height="3" fill="#aaff00" stroke="none"/>
<rect x="483" y="201" width="3" height="3" fill="#aaff00" stroke="none"/>
<rect x="509" y="220" width="3" height="3" fill="#aaff00" stroke="none"/>
<rect x="534" y="246" width="3" height="3" fill="#aaff00" stroke="none"/>
<polyline points="176.5,344.5 201.5,317.5 227.5,296.5 253.5,290.5 278.5,288.5 304.5,292.5 330.5,265.5 355.5,240.5 381.5,232.5 407.5,228.5 433.5,224.5 458.5,216.5 484.5,192.5 510.5,170.5 535.5,152.5" stroke="#aaff00"/>
<rect x="175" y="343" width="3" height="3" fill="#aaff00" stroke="none"/>
<rect x="200" y="316" width="3" height="3" fill="#aaff00" stroke="none"/>
<rect x="226" y="295" width="3" height="3" fill="#aaff00" stroke="none"/>
<rect x="252" y="289" width="3" height="3" fill="#aaff00" stroke="none"/>
<rect x="277" y="287" width="3" height="3" fill="#aaff00" stroke="none"/>
<rect x="303" y="291" width="3" height="3" fill="#aaff00" stroke="none"/>
<rect x="329" y="264" width="3" height="3" fill="#aaff00" stroke="none"/>
<rect x="354" y="239" width="3" height="3" fill="#aaff00" stroke="none"/>
<rect x="380" y="231" width="3" height="3" fill="#aaff00" stroke="none"/>
<rect x="406" y="227" width="3" height="3" fill="#aaff00" stroke="none"/>
<rect x="432" y="223" width="3" height="3" fill="#aaff00" stroke="none"/>
<rect x="457" y="215" width="3" height="3" fill="#aaff00" stroke="none"/>
<rect x="483" y="191" width="3" height="3" fill="#aaff00" stroke="none"/>
<rect x="509" y="169" width="3" height="3" fill="#aaff00" stroke="none"/>
<rect x="534" y="151" width="3" height="3" fill="#aaff00" stroke="none"/>
<polyline points="176.5,283.5 201.5,243.5 227.5,221.5 253.5,223.5 278.5,245.5 304.5,275.5 330.5,287.5 355.5,273.5 381.5,265.5 407.5,254.5 433.5,230.5 458.5,206.5 484.5,190.5 510.5,192.5 535.5,210.5" stroke="#ffff00"/>
<rect x="175" y="282" width="3" height="3" fill="#ffff00" stroke="none"/>
<rect x="200" y="242" width="3" height="3" fill="#ffff00" stroke="none"/>
<rect x="226" y="220" width="3" height="3" fill="#ffff00" stroke="none"/>
<rect x="252" y="222" width="3" height="3" fill="#ffff00" stroke="none"/>
<rect x="277" y="244" width="3" height="3" fill="#ffff00" stroke="none"/>
<rect x="303" y="274" width="3" height="3" fill="#ffff00" stroke="none"/>
<rect x="329" y="286" width="3" height="3" fill="#ffff00" stroke="none"/>
<rect x="354" y="272" width="3" height="3" fill="#ffff00" stroke="none"/>
<rect x="380" y="264" width="3" height="3" fill="#ffff00" stroke="none"/>
<rect x="406" y="253" width="3" height="3" fill="#ffff00" stroke="none"/>
<rect x="432" y="229" width="3" height="3" fill="#ffff00" stroke="none"/>
<rect x="457" y="205" width="3" height="3" fill="#ffff00" stroke="none"/>
<rect x="483" y="189" width="3" height="3" fill="#ffff00" stroke="none"/>
<rect x="509" y="191" width="3" height="3" fill="#ffff00" stroke="none"/>
<rect x="534" y="209" width="3" height="3" fill="#ffff00" stroke="none"/>
<polyline points="176.5,256.5 201.5,281.5 227.5,308.5 253.5,269.5 278.5,227.5 304.5,211.5 330.5,218.5 355.5,255.5 381.5,299.5 407.5,298.5 433.5,251.5 458.5,226.5 484.5,227.5 510.5,251.5 535.5,281.5" stroke="#ffff00"/>
<rect x="175" y="255" width="3" height="3" fill="#ffff00" stroke="none"/>
<rect x="200" y="280" width="3" height="3" fill="#ffff00" stroke="none"/>
<rect x="226" y="307" width="3" height="3" fill="#ffff00" stroke="none"/>
<rect x="252" y="268" width="3" height="3" fill="#ffff00" stroke="none"/>
<rect x="277" y="226" width="3" height="3" fill="#ffff00" stroke="none"/>
<rect x="303" y="210" width="3" height="3" fill="#ffff00" stroke="none"/>
<rect x="329" y="217" width="3" height="3" fill="#ffff00" stroke="none"/>
<rect x="354" y="254" width="3" height="3" fill="#ffff00" stroke="none"/>
<rect x="380" y="298" width="3" height="3" fill="#ffff00" stroke="none"/>
<rect x="406" y="297" width="3" height="3" fill="#ffff00" stroke="none"/>
<rect x="432" y="250" width="3" height="3" fill="#ffff00" stroke="none"/>
<rect x="457" y="225" width="3" height="3" fill="#ffff00" stroke="none"/>
<rect x="483" y="226" width="3" height="3" fill="#ffff00" stroke="none"/>
<rect x="509" y="250" width="3" height="3" fill="#ffff00" stroke="none"/>
<rect x="534" y="280" width="3" height="3" fill="#ffff00" stroke="none"/>
<polyline points="176.5,220.5 201.5,222.5 227.5,235.5 253.5,247.5 278.5,256.5 304.5,260.5 330.5,253.5 355.5,236.5 381.5,216.5 407.5,200.5 433.5,193.5 458.5,194.5 484.5,201.5 510.5,204.5 535.5,191.5" stroke="#ffcc00"/>
<rect x="175" y="219" width="3" height="3" fill="#ffcc00" stroke="none"/>
<rect x="200" y="221" width="3" height="3" fill="#ffcc00" stroke="none"/>
<rect x="226" y="234" width="3" height="3" fill="#ffcc00" stroke="none"/>
<rect x="252" y="246" width="3" height="3" fill="#ffcc00" stroke="none"/>
<rect x="277" y="255" width="3" height="3" fill="#ffcc00" stroke="none"/>
<rect x="303" y="259" width="3" height="3" fill="#ffcc00" stroke="none"/>
<rect x="329" y="252" width="3" height="3" fill="#ffcc00" stroke="none"/>
<rect x="354" y="235" width="3" height="3" fill="#ffcc00" stroke="none"/>
<rect x="380" y="215" width="3" height="3" fill="#ffcc00" stroke="none"/>
<rect x="406" y="199" width="3" height="3" fill="#ffcc00" stroke="none"/>
<rect x="432" y="192" width="3" height="3" fill="#ffcc00" stroke="none"/>
<rect x="457" y="193" width="3" height="3" fill="#ffcc00" stroke="none"/>
<rect x="483" y="200" width="3" height="3" fill="#ffcc00" stroke="none"/>
<rect x="509" y="203" width="3" height="3" fill="#ffcc00" stroke="none"/>
<rect x="534" y="190" width="3" height="3" fill="#ffcc00" stroke="none"/>
</g>
<g stroke="#000" stroke-width="1" fill="none">
<rect x="60.5" y="109.5" width="622" height="280"/>
<line x1="216.5" y1="109" x2="216.5" y2="116"/>
<line x1="216.5" y1="383" x2="216.5" y2="390"/>
<line x1="371.5" y1="109" x2="371.5" y2="116"/>
<line x1="371.5" y1="383" x2="371.5" y2="390"/>
<line x1="527.5" y1="109" x2="527.5" y2="116"/>
<line x1="527.5" y1="383" x2="527.5" y2="390"/>
<line x1="60" y1="179.5" x2="73" y2="179.5"/>
<line x1="670" y1="179.5" x2="683" y2="179.5"/>
<line x1="60" y1="249.5" x2="73" y2="249.5"/>
<line x1="670" y1="249.5" x2="683" y2="249.5"/>
<line x1="60" y1="319.5" x2="73" y2="319.5"/>
<line x1="670" y1="319.5" x2="683" y2="319.5"/>
<rect x="50.5" y="9.5" width="71" height="84"/>
</g>
</svg>
<div class="t" style="left:55px;top:10.9px;color:#5a0096;letter-spacing:0.55px">Time 06:16</div>
<div class="t" style="left:55px;top:21.9px;color:#0000ff;letter-spacing:0.55px">Time 08:43</div>
<div class="t" style="left:55px;top:32.9px;color:#0080ff;letter-spacing:0.55px">Time 09:37</div>
<div class="t" style="left:55px;top:43.9px;color:#00ffff;letter-spacing:0.55px">Time 10:36</div>
<div class="t" style="left:55px;top:54.9px;color:#00ff44;letter-spacing:0.55px">Time 11:36</div>
<div class="t" style="left:55px;top:65.9px;color:#33ff00;letter-spacing:0.55px">Time 13:06</div>
<div class="t" style="left:55px;top:76.9px;color:#aaff00;letter-spacing:0.55px">Time 15:53</div>
<div class="t" style="left:234.5px;top:6.0px;letter-spacing:0.62px">PML, N 50 22', W 04 08', Alt 0m</div>
<div class="t" style="left:234.5px;top:20.3px;letter-spacing:0.66px">Data from: 30 Jun 2024</div>
<div class="t c" style="left:60px;top:395.0px">0.01</div>
<div class="t c" style="left:216px;top:395.0px">0.10</div>
<div class="t c" style="left:371.5px;top:395.0px">1.00</div>
<div class="t c" style="left:527px;top:395.0px">10.00</div>
<div class="t c" style="left:682px;top:395.0px">100.00</div>
<div class="t c" style="left:371px;top:408.4px;letter-spacing:0.42px">Aerosol Size (μm)</div>
<div class="yl" style="top:107.4px">10<sup>−4</sup></div>
<div class="yl" style="top:174.4px">10<sup>−5</sup></div>
<div class="yl" style="top:244.4px">10<sup>−6</sup></div>
<div class="yl" style="top:314.4px">10<sup>−7</sup></div>
<div class="yl" style="top:380.4px">10<sup>−8</sup></div>
<div class="t" style="left:23.5px;top:250px;transform:translate(-50%,-50%) rotate(-90deg);letter-spacing:0.9px;word-spacing:0px">dV/d(log R) (cm<sup class="s">3</sup>/cm<sup class="s">2</sup>)</div>
</body></html>
